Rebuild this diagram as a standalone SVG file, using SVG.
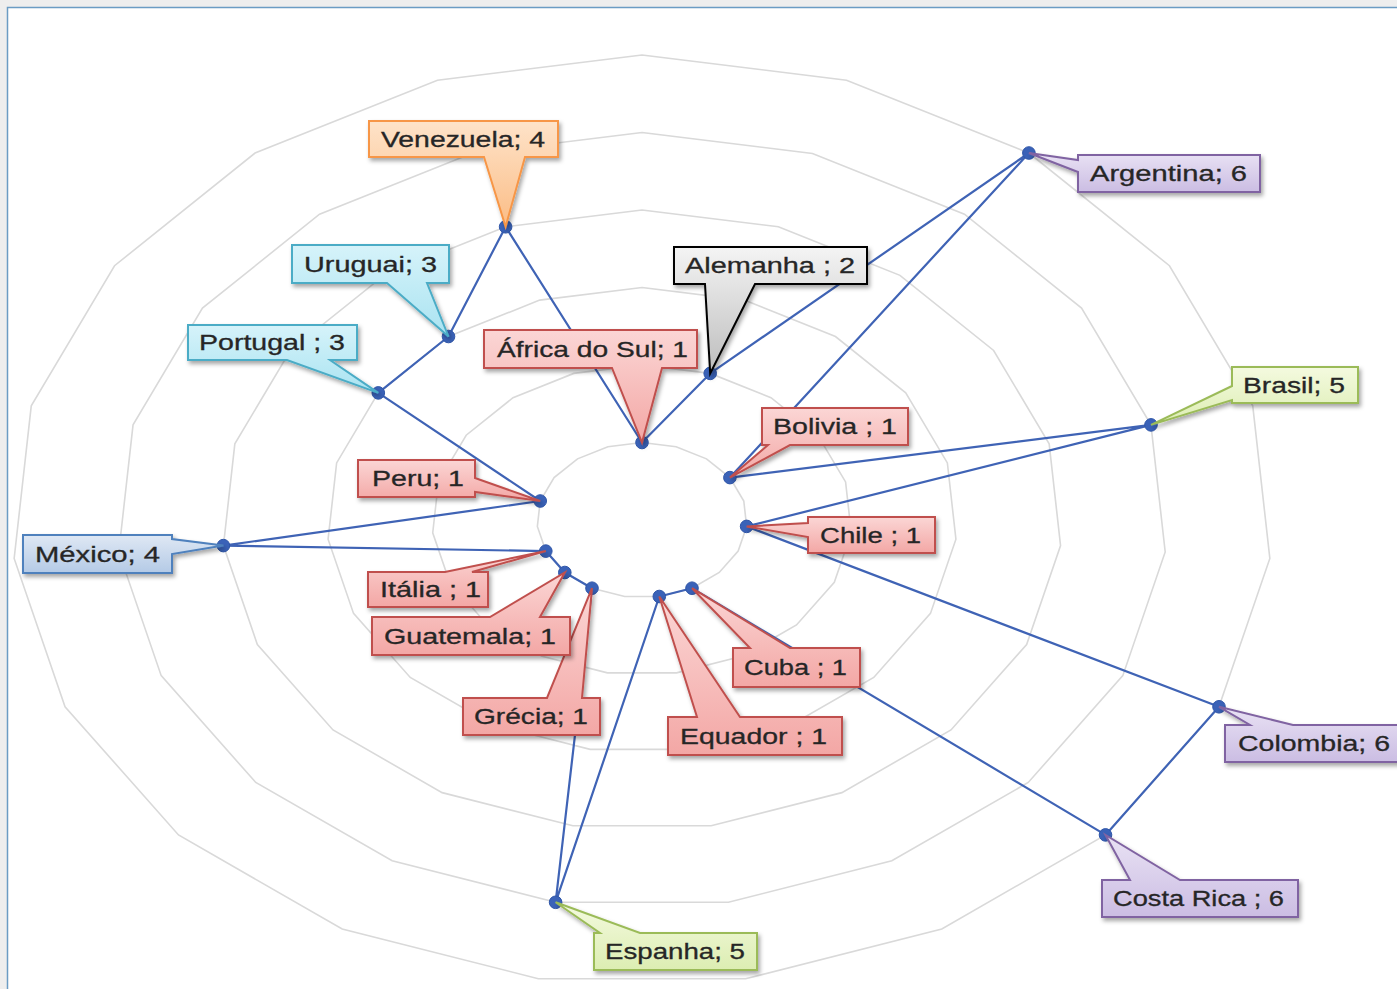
<svg xmlns="http://www.w3.org/2000/svg" xmlns:xlink="http://www.w3.org/1999/xlink" width="1397" height="989" viewBox="0 0 1397 989">
<style>
.grid{fill:none;stroke:#d9d9d9;stroke-width:1.6;vector-effect:non-scaling-stroke}
.series{fill:none;stroke:#3f63b5;stroke-width:2.2;stroke-linejoin:round}
.mk{fill:#3a62b8;stroke:#2f56a8;stroke-width:1}
.lbl{font-family:"Liberation Sans",Arial,sans-serif;font-size:22px;fill:#262626;stroke:#262626;stroke-width:0.3;text-anchor:middle}
.red{fill:url(#gRed);stroke:#c0504d;stroke-width:2;filter:url(#sh)}
.cyan{fill:url(#gCyan);stroke:#4bacc6;stroke-width:2;filter:url(#sh)}
.orange{fill:url(#gOrange);stroke:#f79646;stroke-width:2;filter:url(#sh)}
.gray{fill:url(#gGray);stroke:#000;stroke-width:2;filter:url(#sh)}
.blue{fill:url(#gBlue);stroke:#4f81bd;stroke-width:2;filter:url(#sh)}
.green{fill:url(#gGreen);stroke:#9bbb59;stroke-width:2;filter:url(#sh)}
.purple{fill:url(#gPurple);stroke:#8064a2;stroke-width:2;filter:url(#sh)}
</style>
<defs>
<filter id="sh" x="-20%" y="-20%" width="140%" height="150%">
<feDropShadow dx="2" dy="3" stdDeviation="2" flood-color="#000" flood-opacity="0.35"/>
</filter>
<linearGradient id="gRed" x1="0" y1="0" x2="0" y2="1"><stop offset="0" stop-color="#fbd6d5"/><stop offset="1" stop-color="#f3a7a5"/></linearGradient>
<linearGradient id="gCyan" x1="0" y1="0" x2="0" y2="1"><stop offset="0" stop-color="#d6f3fa"/><stop offset="1" stop-color="#a9e3f1"/></linearGradient>
<linearGradient id="gOrange" x1="0" y1="0" x2="0" y2="1"><stop offset="0" stop-color="#fee3c9"/><stop offset="1" stop-color="#fbbd86"/></linearGradient>
<linearGradient id="gGray" x1="0" y1="0" x2="0" y2="1"><stop offset="0" stop-color="#f4f4f4"/><stop offset="1" stop-color="#bdbdbd"/></linearGradient>
<linearGradient id="gBlue" x1="0" y1="0" x2="0" y2="1"><stop offset="0" stop-color="#dfe8f4"/><stop offset="1" stop-color="#b4cae6"/></linearGradient>
<linearGradient id="gGreen" x1="0" y1="0" x2="0" y2="1"><stop offset="0" stop-color="#f4fadf"/><stop offset="1" stop-color="#dcedb2"/></linearGradient>
<linearGradient id="gPurple" x1="0" y1="0" x2="0" y2="1"><stop offset="0" stop-color="#e9e2f4"/><stop offset="1" stop-color="#cbbde3"/></linearGradient>
<polygon id="ring" class="grid" points="0,-77.5 34.09,-73.3 64.49,-61.16 87.91,-42.38 101.79,-19.03 104.64,6.4 96.16,31.13 77.25,52.49 49.97,68.16 17.28,76.45 -17.28,76.45 -49.97,68.16 -77.25,52.49 -96.16,31.13 -104.64,6.4 -101.79,-19.03 -87.91,-42.38 -64.49,-61.16 -34.09,-73.3"/>
</defs>

<rect x="0" y="0" width="1397" height="989" fill="#eeeeee"/>
<rect x="7.5" y="7.5" width="1400" height="990" fill="#ffffff" stroke="#6b9cc4" stroke-width="1.5"/>

<g id="grid">
<use xlink:href="#ring" transform="translate(642,520) scale(1)"/>
<use xlink:href="#ring" transform="translate(642,520) scale(2)"/>
<use xlink:href="#ring" transform="translate(642,520) scale(3)"/>
<use xlink:href="#ring" transform="translate(642,520) scale(4)"/>
<use xlink:href="#ring" transform="translate(642,520) scale(5)"/>
<use xlink:href="#ring" transform="translate(642,520) scale(6)"/>
</g>

<g id="connectors">
<polygon class="series" points="642,442.5 710.2,373.4 1028.9,153 729.9,477.6 1151,424.9 746.6,526.4 1219,706.8 1105.5,834.9 692,588.2 659.3,596.5 555.6,902.3 592,588.2 564.8,572.5 545.8,551.1 223.4,545.6 540.2,501 378.3,392.9 448.5,336.5 505.6,226.8"/>
</g>

<g id="markers">
<circle class="mk" cx="642" cy="442.5" r="6.3"/>
<circle class="mk" cx="710.2" cy="373.4" r="6.3"/>
<circle class="mk" cx="1028.9" cy="153" r="6.3"/>
<circle class="mk" cx="729.9" cy="477.6" r="6.3"/>
<circle class="mk" cx="1151" cy="424.9" r="6.3"/>
<circle class="mk" cx="746.6" cy="526.4" r="6.3"/>
<circle class="mk" cx="1219" cy="706.8" r="6.3"/>
<circle class="mk" cx="1105.5" cy="834.9" r="6.3"/>
<circle class="mk" cx="692" cy="588.2" r="6.3"/>
<circle class="mk" cx="659.3" cy="596.5" r="6.3"/>
<circle class="mk" cx="555.6" cy="902.3" r="6.3"/>
<circle class="mk" cx="592" cy="588.2" r="6.3"/>
<circle class="mk" cx="564.8" cy="572.5" r="6.3"/>
<circle class="mk" cx="545.8" cy="551.1" r="6.3"/>
<circle class="mk" cx="223.4" cy="545.6" r="6.3"/>
<circle class="mk" cx="540.2" cy="501" r="6.3"/>
<circle class="mk" cx="378.3" cy="392.9" r="6.3"/>
<circle class="mk" cx="448.5" cy="336.5" r="6.3"/>
<circle class="mk" cx="505.6" cy="226.8" r="6.3"/>
</g>

<g id="africa"><path class="red" d="M484,330 H697 V368 H662 L642,442.5 L612,368 H484 Z"/><text class="lbl" x="592.5" y="357" textLength="191" lengthAdjust="spacingAndGlyphs">África do Sul; 1</text></g>
<g id="alemanha"><path class="gray" d="M674,247 H867 V284 H755 L710.2,373.4 L705,284 H674 Z"/><text class="lbl" x="770" y="273" textLength="170" lengthAdjust="spacingAndGlyphs">Alemanha ; 2</text></g>
<g id="argentina"><path class="purple" d="M1078,155 H1260 V192 H1078 V172 L1028.9,153 L1078,160 Z"/><text class="lbl" x="1168.5" y="181" textLength="157" lengthAdjust="spacingAndGlyphs">Argentina; 6</text></g>
<g id="bolivia"><path class="red" d="M762,408 H908 V445 H790 L729.9,477.6 L768,445 H762 Z"/><text class="lbl" x="835" y="434" textLength="124" lengthAdjust="spacingAndGlyphs">Bolivia ; 1</text></g>
<g id="brasil"><path class="green" d="M1232,367 H1358 V403 H1232 V400 L1151,424.9 L1232,386 Z"/><text class="lbl" x="1294" y="393" textLength="102" lengthAdjust="spacingAndGlyphs">Brasil; 5</text></g>
<g id="chile"><path class="red" d="M808,517 H935 V553 H808 V537 L746.6,526.4 L808,523 Z"/><text class="lbl" x="870.5" y="543" textLength="101" lengthAdjust="spacingAndGlyphs">Chile ; 1</text></g>
<g id="colombia"><path class="purple" d="M1225,725 H1250 L1219,706.8 L1293,725 H1410 V762 H1225 Z"/><text class="lbl" x="1314" y="751" textLength="152" lengthAdjust="spacingAndGlyphs">Colombia; 6</text></g>
<g id="costarica"><path class="purple" d="M1102,880 H1130 L1105.5,834.9 L1180,880 H1298 V917 H1102 Z"/><text class="lbl" x="1198.5" y="906" textLength="171" lengthAdjust="spacingAndGlyphs">Costa Rica ; 6</text></g>
<g id="cuba"><path class="red" d="M733,648 H750 L692,588.2 L790,648 H860 V687 H733 Z"/><text class="lbl" x="795.5" y="675" textLength="103" lengthAdjust="spacingAndGlyphs">Cuba ; 1</text></g>
<g id="equador"><path class="red" d="M668,717 H697 L659.3,596.5 L740,717 H842 V755 H668 Z"/><text class="lbl" x="753.5" y="744" textLength="147" lengthAdjust="spacingAndGlyphs">Equador ; 1</text></g>
<g id="espanha"><path class="green" d="M594,933 H600 L555.6,902.3 L640,933 H757 V970 H594 Z"/><text class="lbl" x="675" y="959" textLength="140" lengthAdjust="spacingAndGlyphs">Espanha; 5</text></g>
<g id="grecia"><path class="red" d="M463,698 H547 L592,588.2 L582,698 H600 V735 H463 Z"/><text class="lbl" x="531" y="724" textLength="114" lengthAdjust="spacingAndGlyphs">Grécia; 1</text></g>
<g id="guatemala"><path class="red" d="M372,617 H490 L564.8,572.5 L540,617 H570 V655 H372 Z"/><text class="lbl" x="470" y="644" textLength="172" lengthAdjust="spacingAndGlyphs">Guatemala; 1</text></g>
<g id="italia"><path class="red" d="M368,572 H445 L545.8,551.1 L472,572 H488 V607 H368 Z"/><text class="lbl" x="430.5" y="597" textLength="101" lengthAdjust="spacingAndGlyphs">Itália ; 1</text></g>
<g id="mexico"><path class="blue" d="M23,535 H172 V539 L223.4,545.6 L172,554 V573 H23 Z"/><text class="lbl" x="97.5" y="562" textLength="125" lengthAdjust="spacingAndGlyphs">México; 4</text></g>
<g id="peru"><path class="red" d="M358,460 H475 V478 L540.2,501 L475,492 V497 H358 Z"/><text class="lbl" x="418" y="486" textLength="92" lengthAdjust="spacingAndGlyphs">Peru; 1</text></g>
<g id="portugal"><path class="cyan" d="M188,325 H357 V360 H330 L378.3,392.9 L287,360 H188 Z"/><text class="lbl" x="272" y="350" textLength="146" lengthAdjust="spacingAndGlyphs">Portugal ; 3</text></g>
<g id="uruguai"><path class="cyan" d="M292,245 H449 V283 H427 L448.5,336.5 L387,283 H292 Z"/><text class="lbl" x="370.5" y="272" textLength="133" lengthAdjust="spacingAndGlyphs">Uruguai; 3</text></g>
<g id="venezuela"><path class="orange" d="M369,121 H558 V157 H525 L505.6,226.8 L484,157 H369 Z"/><text class="lbl" x="463" y="147" textLength="164" lengthAdjust="spacingAndGlyphs">Venezuela; 4</text></g>
</svg>
